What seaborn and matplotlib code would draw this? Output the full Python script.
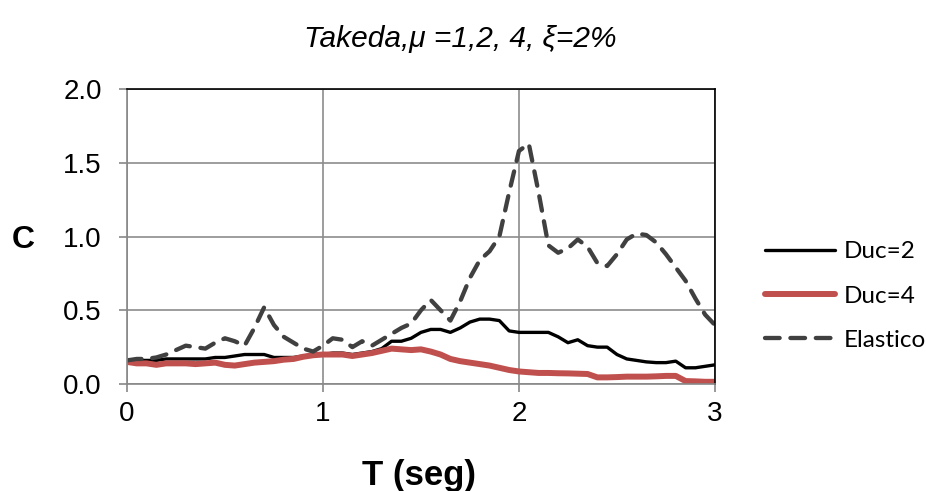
import matplotlib
matplotlib.use("Agg")
import matplotlib.pyplot as plt
import numpy as np
import pandas as pd
import seaborn as sns

T = [0.00, 0.05, 0.10, 0.15, 0.20, 0.25, 0.30, 0.35, 0.40, 0.45,
     0.50, 0.55, 0.60, 0.65, 0.70, 0.75, 0.80, 0.85, 0.90, 0.95,
     1.00, 1.05, 1.10, 1.15, 1.20, 1.25, 1.30, 1.35, 1.40, 1.45,
     1.50, 1.55, 1.60, 1.65, 1.70, 1.75, 1.80, 1.85, 1.90, 1.95,
     2.00, 2.05, 2.10, 2.15, 2.20, 2.25, 2.30, 2.35, 2.40, 2.45,
     2.50, 2.55, 2.60, 2.65, 2.70, 2.75, 2.80, 2.85, 2.90, 2.95, 3.00]

duc2 = [0.16, 0.16, 0.16, 0.16, 0.17, 0.17, 0.17, 0.17, 0.17, 0.18,
        0.18, 0.19, 0.20, 0.20, 0.20, 0.18, 0.18, 0.18, 0.19, 0.20,
        0.20, 0.21, 0.21, 0.20, 0.21, 0.22, 0.24, 0.29, 0.29, 0.31,
        0.35, 0.37, 0.37, 0.35, 0.38, 0.42, 0.44, 0.44, 0.43, 0.36,
        0.35, 0.35, 0.35, 0.35, 0.32, 0.28, 0.30, 0.26, 0.25, 0.25,
        0.20, 0.17, 0.16, 0.15, 0.145, 0.145, 0.155, 0.11, 0.11, 0.12, 0.13]

duc4 = [0.15, 0.14, 0.14, 0.13, 0.14, 0.14, 0.14, 0.135, 0.14, 0.145,
        0.13, 0.125, 0.135, 0.145, 0.15, 0.155, 0.165, 0.17, 0.185, 0.195,
        0.20, 0.20, 0.20, 0.19, 0.20, 0.21, 0.225, 0.24, 0.235, 0.23,
        0.235, 0.22, 0.20, 0.17, 0.155, 0.145, 0.135, 0.125, 0.11, 0.095,
        0.085, 0.08, 0.075, 0.075, 0.073, 0.072, 0.07, 0.068, 0.045, 0.045,
        0.047, 0.05, 0.05, 0.05, 0.052, 0.055, 0.055, 0.02, 0.018, 0.015, 0.015]

elastico = [0.16, 0.17, 0.17, 0.18, 0.20, 0.23, 0.26, 0.25, 0.24, 0.28,
            0.31, 0.29, 0.26, 0.38, 0.52, 0.40, 0.32, 0.28, 0.24, 0.22,
            0.26, 0.31, 0.30, 0.25, 0.29, 0.26, 0.30, 0.34, 0.38, 0.41,
            0.50, 0.57, 0.50, 0.43, 0.56, 0.72, 0.84, 0.90, 1.00, 1.30,
            1.58, 1.63, 1.30, 0.94, 0.89, 0.92, 0.98, 0.93, 0.82, 0.80,
            0.88, 0.98, 1.02, 1.01, 0.96, 0.88, 0.79, 0.70, 0.58, 0.47, 0.40]

series = {"Duc=2": duc2, "Duc=4": duc4, "Elastico": elastico}
styles = {
    "Duc=2": dict(color="black", linewidth=2.4, linestyle="-"),
    "Duc=4": dict(color="#c0504d", linewidth=4.3, linestyle="-"),
    "Elastico": dict(color="#404040", linewidth=3.1, linestyle=(0, (3.4, 2.5))),
}

sns.set_style("white")
plt.rcParams["font.family"] = ["Liberation Sans", "DejaVu Sans"]
plt.rcParams["text.color"] = "black"
plt.rcParams["xtick.labelcolor"] = "black"
plt.rcParams["ytick.labelcolor"] = "black"

fig = plt.figure(figsize=(9.26, 4.91), dpi=100)
ax = fig.add_axes([0.1371, 0.2179, 0.635, 0.6008])

for name, vals in series.items():
    df = pd.DataFrame({"T": T, "C": vals})
    sns.lineplot(data=df, x="T", y="C", ax=ax, label=name,
                 solid_capstyle="round", dash_capstyle="round", **styles[name])

yt = np.arange(0, 2.01, 0.5)
ax.set_xlim(0, 3)
ax.set_ylim(0, 2.0)
ax.set_xticks([0, 1, 2, 3])
ax.set_xticklabels(["0", "1", "2", "3"])
ax.set_yticks(yt)
ax.set_yticklabels([f"{v:.1f}" for v in yt])
ax.tick_params(axis="both", labelsize=20, direction="out", length=6,
               color="#888888", width=1.2, bottom=True, left=True)
ax.tick_params(axis="y", pad=12)
ax.tick_params(axis="x", pad=6)
ax.grid(True, color="#8c8c8c", linewidth=1.2)
for side in ["left", "bottom"]:
    ax.spines[side].set_color("#888888")
    ax.spines[side].set_linewidth(1.2)
for side in ["top", "right"]:
    ax.spines[side].set_color("black")
    ax.spines[side].set_linewidth(1.2)

ax.set_xlabel("")
ax.set_ylabel("")
fig.text(0.0254, 0.511, "C", fontsize=23, fontweight="bold", ha="center", va="center")
fig.text(0.4525, 0.012, "T (seg)", fontsize=25, fontweight="bold", ha="center", va="baseline")
fig.text(0.497, 0.904, "Takeda,μ =1,2, 4, ξ=2%", fontsize=21.5, style="italic",
         ha="center", va="baseline")

leg = ax.legend(loc="center left", bbox_to_anchor=(0.826, 0.397),
                bbox_transform=fig.transFigure, frameon=False,
                handlelength=2.9, labelspacing=0.95, handletextpad=0.35,
                borderpad=0, borderaxespad=0,
                prop={"family": ["Lato", "DejaVu Sans"], "size": 17.5})

fig.savefig("out.png", dpi=100)
